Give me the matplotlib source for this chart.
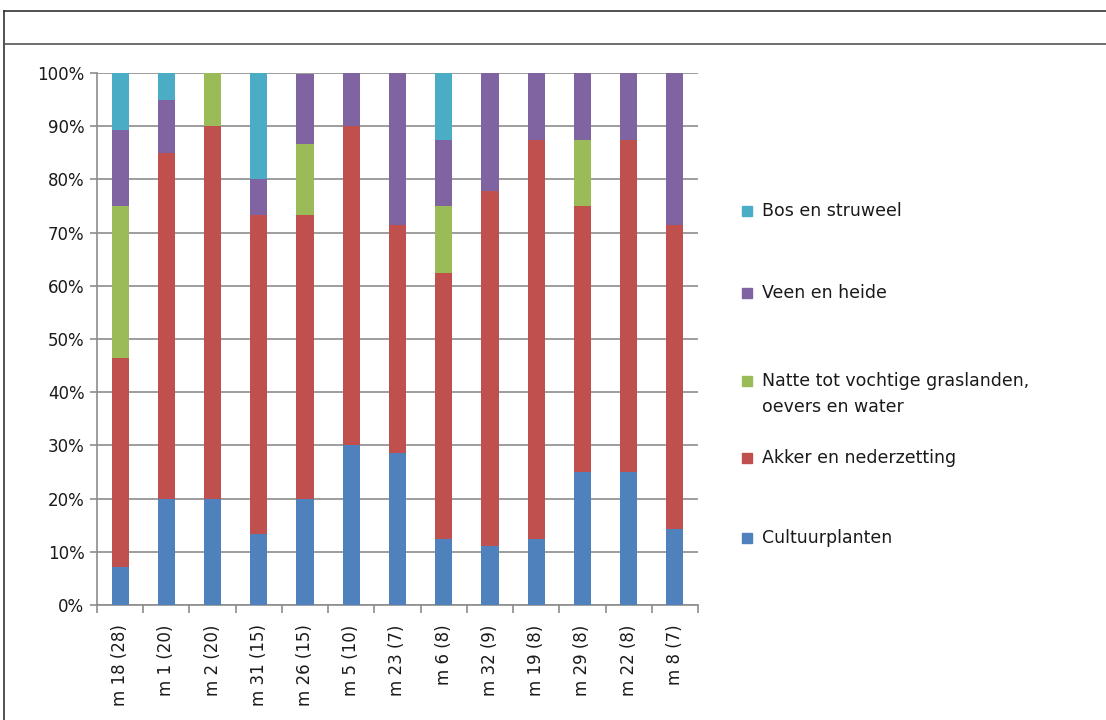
import matplotlib
matplotlib.use("Agg")
import matplotlib.pyplot as plt
from matplotlib.lines import Line2D
from matplotlib.patches import Rectangle
import numpy as np

categories = ["m18 (28)", "m1 (20)", "m2 (20)", "m31 (15)", "m26 (15)", "m5 (10)", "m23 (7)",
              "m6 (8)", "m32 (9)", "m19 (8)", "m29 (8)", "m22 (8)", "m8 (7)"]
tick_labels = ["m 18 (28)", "m 1 (20)", "m 2 (20)", "m 31 (15)", "m 26 (15)", "m 5 (10)", "m 23 (7)",
               "m 6 (8)", "m 32 (9)", "m 19 (8)", "m 29 (8)", "m 22 (8)", "m 8 (7)"]

cultuurplanten = [7.1, 20.0, 20.0, 13.3, 20.0, 30.0, 28.6, 12.5, 11.1, 12.5, 25.0, 25.0, 14.3]
akker = [39.3, 65.0, 70.0, 60.0, 53.3, 60.0, 42.9, 50.0, 66.7, 75.0, 50.0, 62.5, 57.1]
natte = [28.6, 0.0, 10.0, 0.0, 13.3, 0.0, 0.0, 12.5, 0.0, 0.0, 12.5, 0.0, 0.0]
veen = [14.3, 10.0, 0.0, 6.7, 13.3, 10.0, 28.6, 12.5, 22.2, 12.5, 12.5, 12.5, 28.6]
bos = [10.7, 5.0, 0.0, 20.0, 0.0, 0.0, 0.0, 12.5, 0.0, 0.0, 0.0, 0.0, 0.0]

series_names = ["Cultuurplanten", "Akker en nederzetting",
                "Natte tot vochtige graslanden,\noevers en water", "Veen en heide", "Bos en struweel"]
series_values = [cultuurplanten, akker, natte, veen, bos]
colors = ["#4F81BD", "#C0504D", "#9BBB59", "#8064A2", "#4BACC6"]

W, H = 1106, 720
fig = plt.figure(figsize=(W / 100, H / 100), dpi=100)
ax = fig.add_axes([97 / W, 1 - 605 / H, (698 - 97) / W, (605 - 73) / H])

x = np.arange(len(categories))
bottom = np.zeros(len(categories))
for name, vals, col in zip(series_names, series_values, colors):
    v = np.array(vals, dtype=float)
    ax.bar(x, v, bottom=bottom, width=0.37, color=col, label=name, zorder=3)
    bottom += v

TXT = "#1a1a1a"
ax.set_xlim(-0.5, len(categories) - 0.5)
ax.set_ylim(0, 100)
ax.set_yticks(np.arange(0, 101, 10))
ax.set_yticklabels([f"{t}%" for t in range(0, 101, 10)], fontsize=12, color=TXT)
ax.yaxis.grid(True, color="#8C8C8C", linewidth=1.2, zorder=0)
ax.set_xticks(x)
ax.set_xticklabels(tick_labels, rotation=90, fontsize=12, color=TXT)
ax.tick_params(axis="x", length=0, pad=14)
ax.set_xticks(np.arange(-0.5, len(categories), 1), minor=True)
ax.tick_params(axis="x", which="minor", length=6, color="#8C8C8C", width=1.2)
ax.tick_params(axis="y", length=5, color="#8C8C8C", width=1.2, pad=4)
for s in ["top", "right"]:
    ax.spines[s].set_visible(False)
for s in ["left", "bottom"]:
    ax.spines[s].set_color("#8C8C8C")
    ax.spines[s].set_linewidth(1.2)

# legend (reverse order, Excel-style placement)
leg_rows = [("Bos en struweel", 4, 211, 211),
            ("Veen en heide", 3, 293, 293),
            ("Natte tot vochtige graslanden,\noevers en water", 2, 394, 381),
            ("Akker en nederzetting", 1, 458, 458),
            ("Cultuurplanten", 0, 538, 538)]
for label, idx, ty, my in leg_rows:
    s = 10
    fig.add_artist(Rectangle(((742) / W, 1 - (my + s / 2) / H), s / W, s / H,
                             transform=fig.transFigure, color=colors[idx]))
    fig.text(762 / W, 1 - ty / H, label, fontsize=12.5, color=TXT, va="center", ha="left",
             linespacing=1.55)

# outer frame
fig.add_artist(Line2D([4 / W, 1], [1 - 11 / H, 1 - 11 / H], transform=fig.transFigure, color="#333333", lw=1.2))
fig.add_artist(Line2D([4 / W, 4 / W], [0, 1 - 11 / H], transform=fig.transFigure, color="#333333", lw=1.2))
fig.add_artist(Line2D([4 / W, 1], [1 - 44 / H, 1 - 44 / H], transform=fig.transFigure, color="#555555", lw=1.2))

fig.savefig("out.png", dpi=100)
